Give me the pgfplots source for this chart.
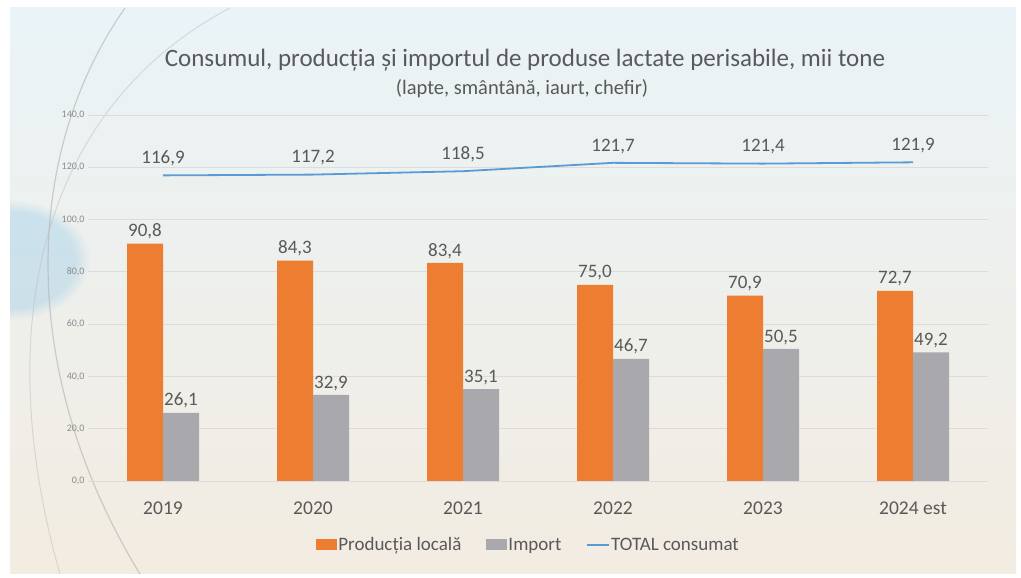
\documentclass[border=0pt]{standalone}
\usepackage{pgfplots}
\pgfplotsset{compat=1.18}
\usetikzlibrary{fadings}
\usepackage{fontspec}
\setmainfont{Carlito}
\definecolor{cOrange}{HTML}{ED7D31}
\definecolor{cGray}{HTML}{A9A9AD}
\definecolor{cBlue}{HTML}{5B9BD5}
\definecolor{cText}{HTML}{595959}
\definecolor{cTick}{HTML}{8C8C8C}
\definecolor{cGrid}{HTML}{DCDCDC}
\definecolor{bgTop}{HTML}{EAF3F7}
\definecolor{bgMid}{HTML}{F6F8F7}
\definecolor{bgBot}{HTML}{F2ECE1}
\definecolor{glow}{HTML}{8EC6E6}
\begin{document}
\begin{tikzpicture}
\useasboundingbox (0pt,0pt) rectangle (1021pt,578pt);
\fill[white] (0pt,0pt) rectangle (1021pt,578pt);
\shade[top color=bgTop, middle color=bgMid, bottom color=bgBot] (10pt,4pt) rectangle (1016pt,570pt);
\begin{scope}
\clip (10pt,4pt) rectangle (1016pt,570pt);
\fill[glow, opacity=0.35, path fading=circle with fuzzy edge 20 percent] (10pt,318pt) ellipse (80pt and 60pt);
\draw[gray!60, opacity=0.6, line width=1.2pt] (125pt,570pt) .. controls (20pt,420pt) and (20pt,200pt) .. (140pt,4pt);
\draw[gray!50, opacity=0.5, line width=1pt] (230pt,570pt) .. controls (40pt,470pt) and (-10pt,250pt) .. (60pt,4pt);
\end{scope}
\node[text=cText, font=\fontsize{25}{29}\selectfont] at (525pt,518pt) {Consumul, producția și importul de produse lactate perisabile, mii tone};
\node[text=cText, font=\fontsize{20.5}{24}\selectfont] at (522pt,489pt) {(lapte, smântână, iaurt, chefir)};
\begin{axis}[
  at={(88pt,97pt)}, anchor=south west,
  scale only axis, width=900pt, height=366pt,
  xmin=-0.5, xmax=5.5, ymin=0, ymax=140,
  xtick={0,1,2,3,4,5},
  xticklabels={2019,2020,2021,2022,2023,2024 est},
  ytick={0,20,40,60,80,100,120,140},
  axis line style={draw=none},
  ymajorgrids, grid style={cGrid, line width=0.8pt},
  major tick length=0pt,
  yticklabel style={text=cTick, font=\fontsize{10}{11}\selectfont},
  xticklabel style={text=cText, font=\fontsize{19.5}{22}\selectfont, yshift=-17pt},
  /pgf/number format/assume math mode=true,
  yticklabel={\pgfmathprintnumber[fixed,fixed zerofill,precision=1,use comma]{\tick}},
  legend style={at={(0.489,-0.143)}, anchor=north, draw=none, fill=none,
    font=\fontsize{19}{22}\selectfont, text=cText, legend columns=-1,
    nodes={inner xsep=1.5pt},
    /tikz/every even column/.append style={column sep=23pt}},
  legend image code/.code={\fill[#1] (0pt,-5.5pt) rectangle (21pt,5.5pt);},
  clip=false,
]
\addplot[ybar, bar width=36pt, bar shift=-18pt, fill=cOrange, draw=none,
  nodes near coords={\pgfmathprintnumber[fixed,fixed zerofill,precision=1,use comma,assume math mode=true]{\pgfplotspointmeta}},
  every node near coord/.append style={text=cText, font=\fontsize{19}{22}\selectfont, yshift=1pt, xshift=-18pt}]
  coordinates {(0,90.8) (1,84.3) (2,83.4) (3,75.0) (4,70.9) (5,72.7)};
\addlegendentry{Producția locală}
\addplot[ybar, bar width=36pt, bar shift=18pt, fill=cGray, draw=none,
  nodes near coords={\pgfmathprintnumber[fixed,fixed zerofill,precision=1,use comma,assume math mode=true]{\pgfplotspointmeta}},
  every node near coord/.append style={text=cText, font=\fontsize{19}{22}\selectfont, yshift=1pt, xshift=18pt}]
  coordinates {(0,26.1) (1,32.9) (2,35.1) (3,46.7) (4,50.5) (5,49.2)};
\addlegendentry{Import}
\addplot[cBlue, line width=1.8pt, mark=none,
  nodes near coords={\pgfmathprintnumber[fixed,fixed zerofill,precision=1,use comma,assume math mode=true]{\pgfplotspointmeta}},
  every node near coord/.append style={text=cText, font=\fontsize{19}{22}\selectfont, anchor=south, yshift=5pt},
  legend image code/.code={\draw[cBlue, line width=1.8pt] (0pt,0pt) -- (22pt,0pt);}]
  coordinates {(0,116.9) (1,117.2) (2,118.5) (3,121.7) (4,121.4) (5,121.9)};
\addlegendentry{TOTAL consumat}
\end{axis}
\end{tikzpicture}
\end{document}
